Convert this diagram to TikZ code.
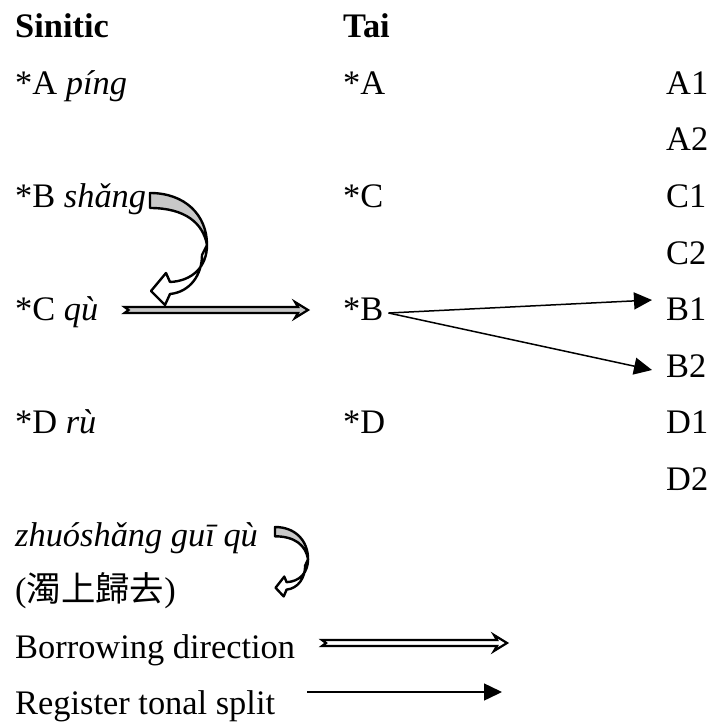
\documentclass[tikz,border=0pt]{standalone}
\usepackage{fontspec}
\setmainfont{Liberation Serif}
\newfontfamily\cjk{Noto Sans CJK TC}
\usetikzlibrary{arrows.meta,calc}
\definecolor{arrowgrey}{RGB}{200,200,200}
\tikzset{
  lbl/.style={anchor=base west, inner sep=0pt, font=\fontsize{34.4}{40}\selectfont},
  hdr/.style={lbl, font=\fontsize{34.4}{40}\selectfont\bfseries},
  splitarrow/.style={line width=1.5pt, -{Triangle[length=18pt,width=17pt]}},
  hollowline/.style={line width=2.2pt, line join=miter},
  curvearrow/.style={line width=2.4pt, line join=round},
}
\newcommand\myhollowarrow[3]{%
  \draw[hollowline, fill=#3]
    ($(#1)+(0,-3)$) -- ($(#2)+(-10,-3)$) -- ($(#2)+(-13,-8)$) -- (#2)
    -- ($(#2)+(-13,8)$) -- ($(#2)+(-10,3)$) -- ($(#1)+(0,3)$)
    -- ($(#1)+(4,0)$) -- cycle;}
\newcommand\mycurvedarrow{%
  \draw[curvearrow, fill=arrowgrey] (0,0) .. controls (35,0) and (57,22) .. (57,52)
    .. controls (53,30) and (35,15) .. (0,15) -- cycle;
  \draw[curvearrow, fill=white] (57,52) .. controls (57,74) and (42,88) .. (20,89)
    -- (16,80) -- (1,98) -- (15,112) -- (20,101)
    .. controls (40,99) and (52,82) .. (52,62) -- cycle;}
\begin{document}
\begin{tikzpicture}[x=1pt,y=-1pt]
\useasboundingbox (0,0) rectangle (708,722);
% headers
\node[hdr] (hS) at (15,38) {Sinitic};
\node[hdr] (hT) at (343,38) {Tai};
% Sinitic column
\node[lbl] (sA) at (15,94.5) {*A \textit{píng}};
\node[lbl] (sB) at (15,207.5) {*B \textit{shǎng}};
\node[lbl] (sC) at (15,320.5) {*C \textit{qù}};
\node[lbl] (sD) at (15,433.5) {*D \textit{rù}};
% Tai column
\node[lbl] (tA) at (343,94.5) {*A};
\node[lbl] (tC) at (343,207.5) {*C};
\node[lbl] (tB) at (343,320.5) {*B};
\node[lbl] (tD) at (343,433.5) {*D};
% right column
\node[lbl] (A1) at (666,94.5) {A1};
\node[lbl] (A2) at (666,151) {A2};
\node[lbl] (C1) at (666,207.5) {C1};
\node[lbl] (C2) at (666,264) {C2};
\node[lbl] (B1) at (666,320.5) {B1};
\node[lbl] (B2) at (666,377) {B2};
\node[lbl] (D1) at (666,433.5) {D1};
\node[lbl] (D2) at (666,490) {D2};
% legend
\node[lbl] (zg) at (15,546.5) {\textit{zhuóshǎng guī qù}};
\node[lbl] (zh) at (15,601.5) {(\cjk 濁上歸去\rmfamily)};
\node[lbl] (bd) at (15,658) {Borrowing direction};
\node[lbl] (rs) at (15,714) {Register tonal split};
% borrowing arrow
\coordinate (bw0) at ($(sC.base east)+(26,-10.5)$);
\coordinate (bw1) at ($(tB.base west)+(-35,-10.5)$);
\myhollowarrow{bw0}{bw1}{arrowgrey}
% split arrows
\draw[splitarrow] ($(tB.base east)+(5,-7.5)$) -- ($(B1.base west)+(-14,-20.5)$);
\draw[splitarrow] ($(tB.base east)+(5,-7.5)$) -- ($(B2.base west)+(-14,-7)$);
% curved arrow shang -> qu
\begin{scope}[shift={(150,193)}]
  \mycurvedarrow
\end{scope}
% legend curved arrow
\begin{scope}[shift={(275,527)}, xscale=0.58, yscale=0.62]
  \mycurvedarrow
\end{scope}
% legend arrows
\coordinate (lb0) at (322,643);
\coordinate (lb1) at (507,643);
\myhollowarrow{lb0}{lb1}{white}
\coordinate (lr0) at (307,692);
\coordinate (lr1) at (502,692);
\draw[splitarrow] (lr0) -- (lr1);
\end{tikzpicture}
\end{document}
